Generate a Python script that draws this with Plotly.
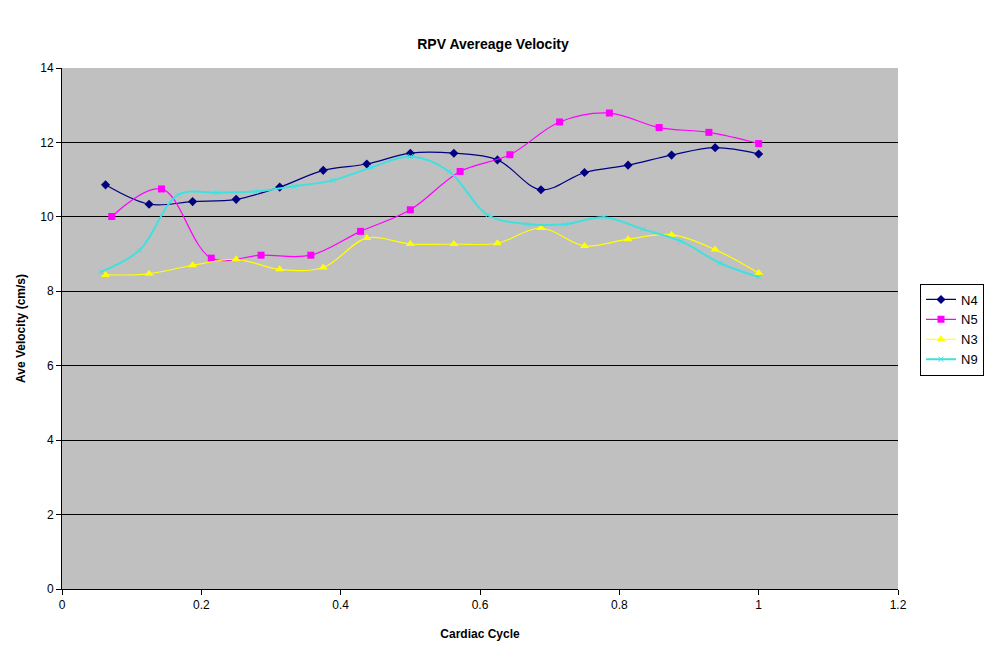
import plotly.graph_objects as go

x16 = [1/16 * i for i in range(1, 17)]
x14 = [1/14 * i for i in range(1, 15)]
x18 = [1/18 * i for i in range(1, 19)]

n4 = [10.86, 10.34, 10.41, 10.47, 10.80, 11.25, 11.42, 11.71, 11.71, 11.53,
      10.73, 11.19, 11.39, 11.66, 11.86, 11.69]
n5 = [10.01, 10.75, 8.89, 8.97, 8.97, 9.61, 10.19, 11.22, 11.67, 12.55,
      12.79, 12.40, 12.27, 11.97]
n3 = [8.44, 8.47, 8.70, 8.86, 8.59, 8.64, 9.43, 9.27, 9.27, 9.29,
      9.70, 9.22, 9.40, 9.52, 9.12, 8.49]
n9 = [8.52, 9.10, 10.59, 10.65, 10.68, 10.82, 10.98, 11.33, 11.62, 11.22,
      10.05, 9.81, 9.80, 9.99, 9.67, 9.34, 8.76, 8.38]

x_ticks = [0, 0.2, 0.4, 0.6, 0.8, 1, 1.2]
y_ticks = [0, 2, 4, 6, 8, 10, 12, 14]

fig = go.Figure()
fig.add_trace(go.Scatter(x=x16, y=n4, name="N4", mode="lines+markers",
                         line=dict(color="#000080", width=1.2, shape="spline", smoothing=1.0),
                         marker=dict(symbol="diamond", size=7, color="#000080")))
fig.add_trace(go.Scatter(x=x14, y=n5, name="N5", mode="lines+markers",
                         line=dict(color="#FF00FF", width=1.2, shape="spline", smoothing=1.0),
                         marker=dict(symbol="square", size=7, color="#FF00FF")))
fig.add_trace(go.Scatter(x=x16, y=n3, name="N3", mode="lines+markers",
                         line=dict(color="#FFFF00", width=1.2, shape="spline", smoothing=1.0),
                         marker=dict(symbol="triangle-up", size=8, color="#FFFF00")))
fig.add_trace(go.Scatter(x=x18, y=n9, name="N9", mode="lines+markers",
                         line=dict(color="#40E0E0", width=2, shape="spline", smoothing=1.0),
                         marker=dict(symbol="x-thin", size=5, color="#40E0E0",
                                     line=dict(color="#40E0E0", width=1))))

fig.update_layout(
    width=986, height=648,
    margin=dict(l=62, r=88, t=68, b=59),
    paper_bgcolor="white",
    plot_bgcolor="#C0C0C0",
    font=dict(family="Liberation Sans, Arial, sans-serif", size=12, color="black"),
    title=dict(text="<b>RPV Avereage Velocity</b>", x=0.5, xanchor="center",
               y=1 - 44 / 648, yanchor="middle", font=dict(size=14)),
    legend=dict(xref="container", yref="container", x=920 / 986, y=1 - 329.5 / 648,
                xanchor="left", yanchor="middle",
                bordercolor="black", borderwidth=1, bgcolor="white",
                font=dict(size=13), itemwidth=30, tracegroupgap=0),
    xaxis=dict(range=[0, 1.2], tickvals=x_ticks, ticktext=[str(v) for v in x_ticks],
               showgrid=False, zeroline=False, showline=True, linecolor="black",
               linewidth=1, ticks="outside", ticklen=5, tickcolor="black", automargin=False,
               title=dict(text="<b>Cardiac Cycle</b>", font=dict(size=12), standoff=18)),
    yaxis=dict(range=[0, 14], tickvals=y_ticks, showgrid=True, gridcolor="black",
               gridwidth=1, zeroline=False, showline=True, linecolor="black",
               linewidth=1, ticks="outside", ticklen=5, tickcolor="black", automargin=False,
               title=dict(text="<b>Ave Velocity (cm/s)</b>", font=dict(size=12), standoff=12)),
)

fig.write_html("out.html", config={"displayModeBar": False},
               post_script="document.body.style.margin='0px';")
